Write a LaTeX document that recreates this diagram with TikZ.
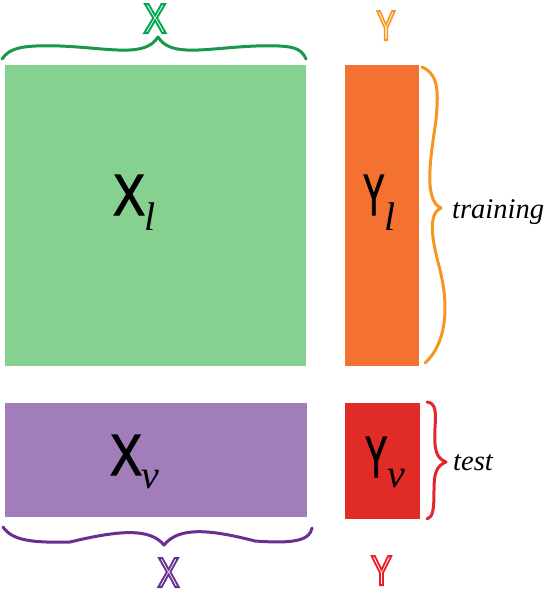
\documentclass[tikz,border=0pt]{standalone}
\usepackage{fontspec}
\setmainfont{Liberation Serif}
\setsansfont{Liberation Sans}
\usepackage{graphicx}
\definecolor{fillgreen}{RGB}{135,209,144}
\definecolor{fillorange}{RGB}{243,114,49}
\definecolor{fillpurple}{RGB}{161,125,185}
\definecolor{fillred}{RGB}{225,43,39}
\definecolor{brgreen}{RGB}{24,152,72}
\definecolor{brorange}{RGB}{247,150,30}
\definecolor{brpurple}{RGB}{104,46,146}
\definecolor{brred}{RGB}{226,38,43}
\definecolor{lblgreen}{RGB}{0,166,81}
\definecolor{lblred}{RGB}{237,28,36}
\newcommand\outlined[1]{\special{pdf:literal direct 1 Tr 2.2 w}#1\special{pdf:literal direct 0 Tr}}
\newcommand\heavy[1]{\special{pdf:literal direct 2 Tr 1.3 w}#1\special{pdf:literal direct 0 Tr}}
\newcommand\bigletter[2]{\scalebox{#1}[1]{\fontsize{58}{60}\selectfont\sffamily\heavy{#2}}}
\newcommand\subsc[1]{{\fontsize{40}{40}\selectfont\rmfamily\itshape #1}}
\newcommand\headletter[2]{\scalebox{#1}[1]{\fontsize{42}{44}\selectfont\sffamily\outlined{#2}}}
\begin{document}
\begin{tikzpicture}[x=1pt,y=-1pt,
  block/.style={anchor=north west, inner sep=0pt, outer sep=0pt, draw=none},
  lbl/.style={anchor=base west, inner sep=0pt},
  head/.style={anchor=base, inner sep=0pt},
  note/.style={anchor=base west, inner sep=0pt, font=\fontsize{28.5}{30}\selectfont\rmfamily\itshape},
  bracepath/.style={line width=3pt, line cap=round, line join=round}]
\useasboundingbox (0,0) rectangle (547,598);
% blocks
\node[block, fill=fillgreen, minimum width=301pt, minimum height=301pt] (XL) at (5,65) {};
\node[block, fill=fillorange, minimum width=74pt, minimum height=301pt] (YL) at (345,65) {};
\node[block, fill=fillpurple, minimum width=302pt, minimum height=114pt] (XV) at (5,403) {};
\node[block, fill=fillred, minimum width=75pt, minimum height=116pt] (YV) at (345,403) {};
% block labels
\node[lbl] (xl) at (113,215) {\bigletter{0.82}{X}\raisebox{-15pt}{\subsc{l}}};
\node[lbl] (yl) at (363,215) {\bigletter{0.55}{Y}\raisebox{-15pt}{\subsc{l}}};
\node[lbl] (xv) at (110,475) {\bigletter{0.82}{X}\raisebox{-13pt}{\subsc{v}}};
\node[lbl] (yv) at (365,477) {\bigletter{0.57}{Y}\raisebox{-10pt}{\subsc{v}}};
% head labels
\node[head, text=lblgreen] (hx) at (155,33) {\headletter{0.82}{X}};
\node[head, text=brorange] (hy) at (386,40) {\headletter{0.68}{Y}};
\node[head, text=brpurple] (fx) at (168.5,587) {\headletter{0.78}{X}};
\node[head, text=lblred] (fy) at (381.5,585) {\headletter{0.75}{Y}};
% side notes
\node[note] (train) at (452,218) {training};
\node[note] (test) at (453,470) {test};
% braces
\draw[bracepath, brgreen] (2,59) .. controls (10,47) and (25,45) .. (60,46)
  .. controls (110,48) and (145,58) .. (158,37)
  .. controls (171,58) and (206,48) .. (256,46)
  .. controls (291,45) and (301,47) .. (306,59);
\draw[bracepath, brpurple] (3,527) .. controls (12,540) and (30,543) .. (70,542)
  .. controls (120,530) and (150,528) .. (164,545)
  .. controls (178,528) and (205,528) .. (255,541)
  .. controls (295,544) and (310,540) .. (312,528);
\draw[bracepath, brorange] (422,67) .. controls (440,75) and (438,95) .. (436,120)
  .. controls (432,150) and (422,200) .. (441,208)
  .. controls (425,215) and (435,250) .. (440,270)
  .. controls (450,310) and (445,345) .. (425,363);
\draw[bracepath, brred] (427,402) .. controls (436,403) and (436,412) .. (435,428)
  .. controls (434,450) and (436,458) .. (446,462)
  .. controls (436,466) and (434,474) .. (434,490)
  .. controls (434,510) and (433,517) .. (427,519);
\end{tikzpicture}
\end{document}
